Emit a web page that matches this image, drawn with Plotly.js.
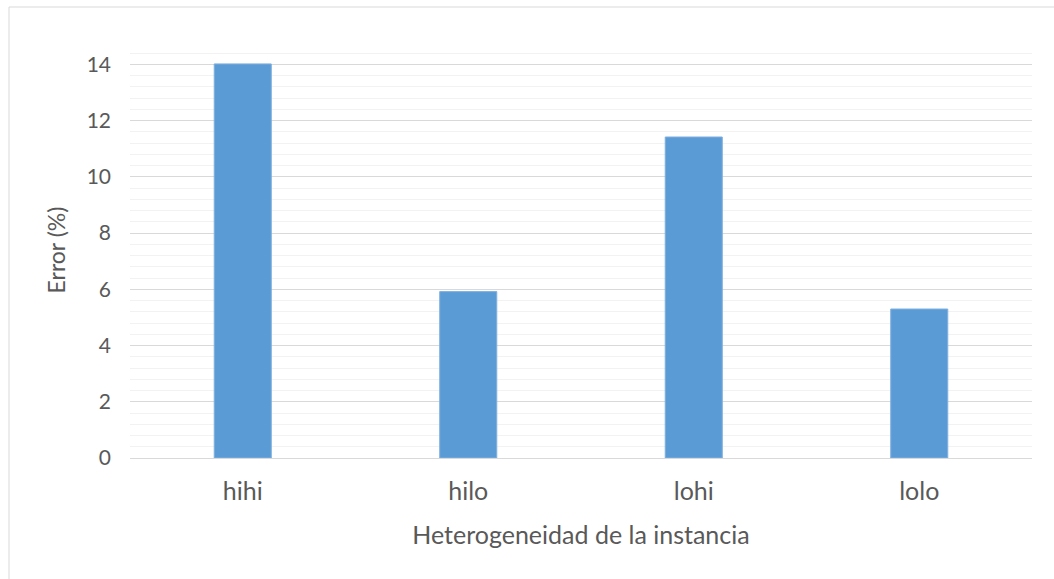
<!DOCTYPE html>
<html>
<head>
<meta charset="utf-8">
<script src="https://cdn.plot.ly/plotly-3.0.1.min.js"></script>
<style>
html,body{margin:0;padding:0;background:#fff;}
#chart{width:1054px;height:579px;}
</style>
</head>
<body>
<div id="chart"></div>
<script>
const categories = ["hihi", "hilo", "lohi", "lolo"];
const errorValues = [14.02, 5.92, 11.42, 5.30];
const xTitle = "Heterogeneidad de la instancia";
const yTitle = "Error (%)";

const font = "Lato, 'Open Sans', sans-serif";
const textColor = "#595959";

const trace = {
  type: "bar",
  x: categories,
  y: errorValues,
  marker: {color: "#5B9BD5", line: {color: "#7FB0DE", width: 1}},
  hoverinfo: "x+y"
};

const layout = {
  width: 1054,
  height: 579,
  margin: {l: 130, r: 22, t: 42, b: 121, pad: 0},
  paper_bgcolor: "#ffffff",
  plot_bgcolor: "#ffffff",
  showlegend: false,
  bargap: 0.747,
  font: {family: font, color: textColor, size: 20},
  xaxis: {
    type: "category",
    showgrid: false,
    zeroline: false,
    showline: false,
    ticks: "",
    tickfont: {size: 25, color: textColor},
    ticklabelstandoff: 16,
    title: {text: xTitle, font: {size: 25, color: textColor}, standoff: 22}
  },
  yaxis: {
    range: [0, 14.8],
    tick0: 0,
    dtick: 2,
    showgrid: true,
    gridcolor: "#D9D9D9",
    gridwidth: 1,
    zeroline: true,
    zerolinecolor: "#D9D9D9",
    zerolinewidth: 1,
    showline: false,
    ticks: "",
    tickfont: {size: 21, color: textColor},
    ticklabelstandoff: 18,
    minor: {dtick: 0.4, tick0: 0, showgrid: true, gridcolor: "#F2F2F2", gridwidth: 1},
    title: {text: yTitle, font: {size: 23, color: textColor}, standoff: 14}
  },
  shapes: [{
    type: "rect",
    xref: "paper", yref: "paper",
    x0: (9 - 130) / 902, x1: 1.2,
    y0: -0.5, y1: 1 + 35 / 416,
    line: {color: "#D9D9D9", width: 1},
    fillcolor: "rgba(0,0,0,0)",
    layer: "below"
  }]
};

Plotly.newPlot("chart", [trace], layout, {displayModeBar: false, staticPlot: true});
</script>
</body>
</html>
